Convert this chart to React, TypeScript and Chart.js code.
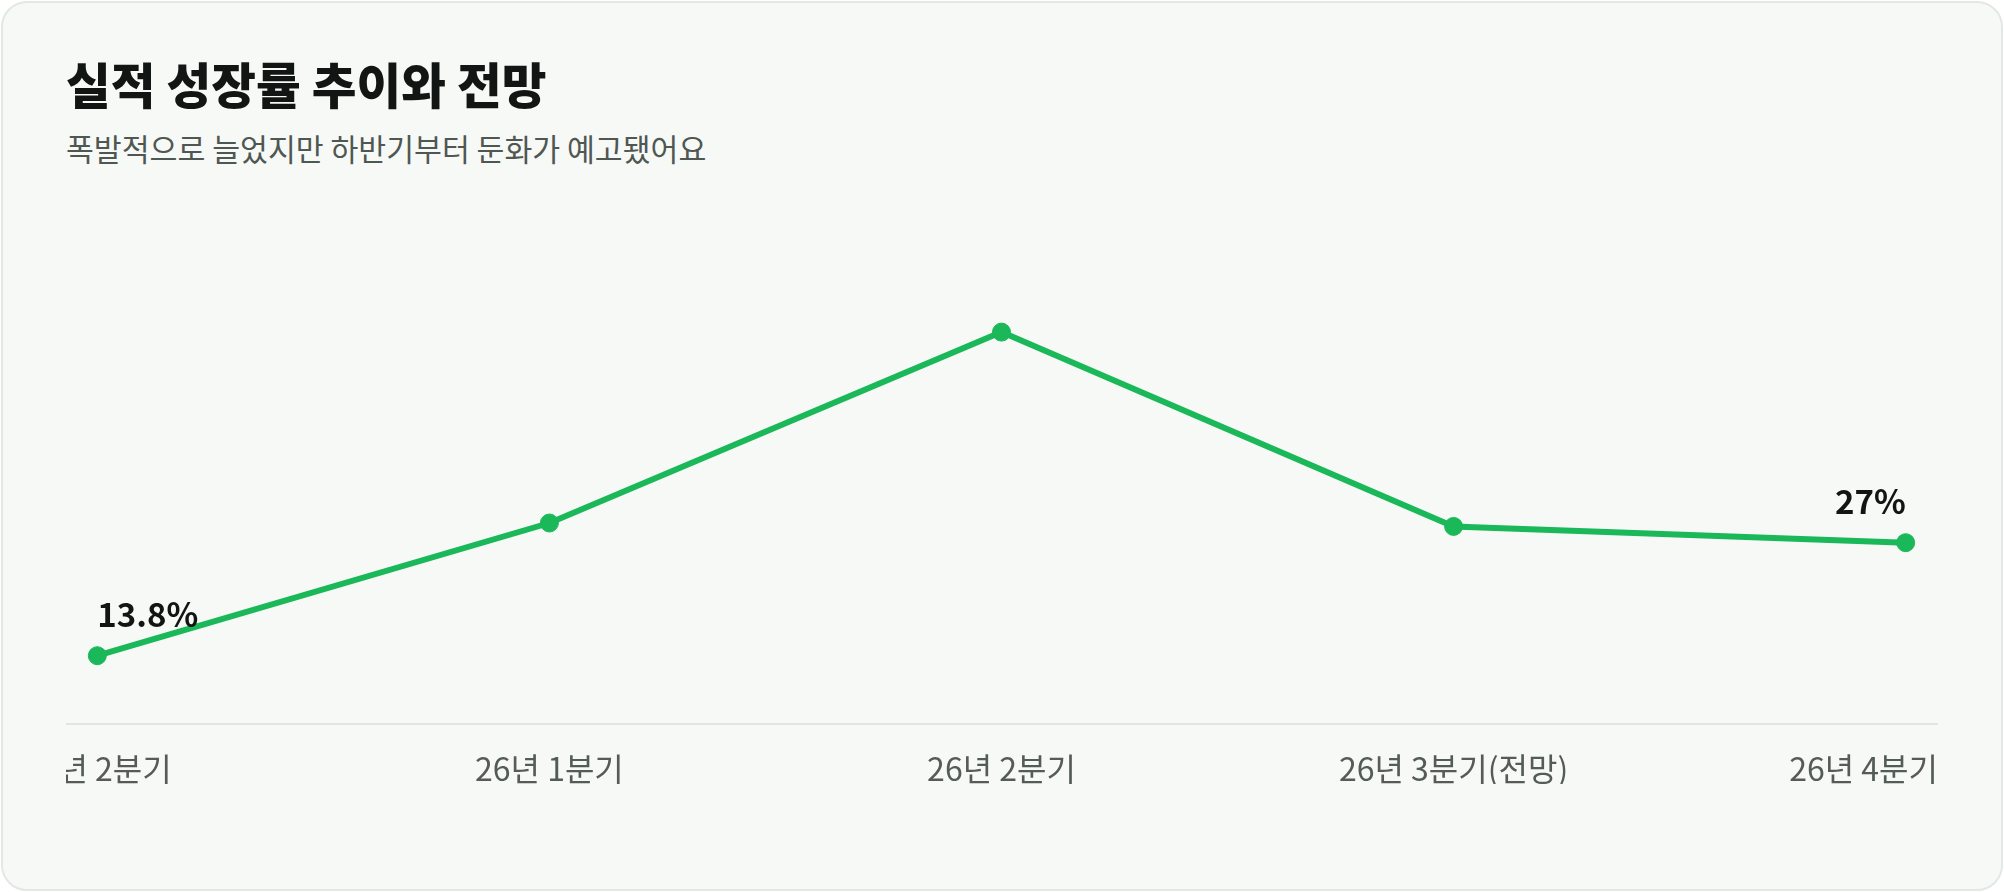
import React, { useEffect, useRef } from "react";
import { Chart, registerables } from "chart.js";

Chart.register(...registerables);

const categories: string[] = ["25년 2분기", "26년 1분기", "26년 2분기", "26년 3분기(전망)", "26년 4분기"];
const growthRates: number[] = [13.8, 29.3, 51.6, 28.9, 27];
const labeledIndices: number[] = [0, 4];
const valueLabels: string[] = ["13.8%", "", "", "", "27%"];

const FONT = "'Noto Sans CJK KR', 'Noto Sans', sans-serif";
const GREEN = "#1bb85a";

const CANVAS_LEFT = 66;
const CANVAS_TOP = 200;
const CANVAS_W = 1874;
const CANVAS_H = 620;

export default function App() {
  const ref = useRef<HTMLCanvasElement | null>(null);

  useEffect(() => {
    if (!ref.current) return;

    const valueLabelPlugin = {
      id: "valueLabels",
      afterDatasetsDraw(chart: any) {
        const meta = chart.getDatasetMeta(0);
        const ctx = chart.ctx;
        ctx.save();
        ctx.font = `700 33px ${FONT}`;
        ctx.fillStyle = "#111513";
        ctx.textBaseline = "alphabetic";
        labeledIndices.forEach((i) => {
          const el = meta.data[i];
          if (!el) return;
          const last = i === categories.length - 1;
          ctx.textAlign = last ? "right" : "left";
          ctx.fillText(valueLabels[i], el.x, el.y - 29);
        });
        ctx.restore();
      },
    };

    const lastLabelPlugin = {
      id: "lastLabelAlign",
      beforeDraw(chart: any) {
        const scale = chart.scales.x;
        const items = scale.getLabelItems(chart.chartArea);
        if (items && items.length) {
          const it = items[items.length - 1];
          it.options.textAlign = "right";
          it.options.translation = [chart.chartArea.right + 1, it.options.translation[1]];
        }
      },
    };

    const chart = new Chart(ref.current, {
      type: "line",
      data: {
        datasets: [
          {
            data: growthRates.map((v, i) => ({ x: i, y: v })),
            borderColor: GREEN,
            backgroundColor: GREEN,
            borderWidth: 6,
            tension: 0,
            pointRadius: 9,
            pointHoverRadius: 9,
            pointBorderWidth: 1,
            pointBackgroundColor: GREEN,
            pointBorderColor: GREEN,
            fill: false,
          },
        ],
      },
      options: {
        animation: false,
        responsive: false,
        maintainAspectRatio: false,
        layout: { autoPadding: false, padding: { left: 0, right: CANVAS_W - 1871, top: 40, bottom: 36 } },
        plugins: {
          legend: { display: false },
          tooltip: { enabled: false },
        },
        scales: {
          x: {
            type: "linear",
            min: -0.0693,
            max: 4.0693,
            grid: { display: false, drawTicks: false },
            border: { display: true, color: "#dfe6e2", width: 2 },
            afterBuildTicks: (axis: any) => {
              axis.ticks = categories.map((_, i) => ({ value: i }));
            },
            afterFit: (s: any) => {
              s.paddingLeft = 0;
              s.paddingRight = 0;
              s.height = 60;
            },
            ticks: {
              autoSkip: false,
              maxRotation: 0,
              minRotation: 0,
              padding: 26,
              color: "#545c57",
              font: { family: FONT, size: 32, weight: 400 },
              callback: (v: any) => categories[Math.round(Number(v))] ?? "",
            },
          },
          y: {
            display: false,
            min: 5.82,
            max: 62.36,
          },
        },
      },
      plugins: [valueLabelPlugin, lastLabelPlugin],
    } as any);

    return () => chart.destroy();
  }, []);

  return (
    <div
      style={{
        position: "fixed",
        left: 0,
        top: 0,
        width: 2004,
        height: 892,
        background: "#ffffff",
        overflow: "hidden",
        fontFamily: FONT,
      }}
    >
      <div
        style={{
          position: "absolute",
          left: 1,
          top: 1,
          width: 2002,
          height: 890,
          boxSizing: "border-box",
          border: "2px solid #e2e8e4",
          borderRadius: 26,
          background: "#f7f9f7",
        }}
      />
      <div
        style={{
          position: "absolute",
          left: 66,
          top: 59,
          fontSize: 48.6,
          lineHeight: "48px",
          fontWeight: 800,
          color: "#111513",
          whiteSpace: "nowrap",
        }}
      >
        실적 성장률 추이와 전망
      </div>
      <div
        style={{
          position: "absolute",
          left: 66,
          top: 133,
          fontSize: 30.3,
          lineHeight: "30px",
          fontWeight: 400,
          color: "#4f5752",
          whiteSpace: "nowrap",
        }}
      >
        폭발적으로 늘었지만 하반기부터 둔화가 예고됐어요
      </div>
      <canvas
        ref={ref}
        width={CANVAS_W}
        height={CANVAS_H}
        style={{
          position: "absolute",
          left: CANVAS_LEFT,
          top: CANVAS_TOP,
          width: CANVAS_W,
          height: CANVAS_H,
        }}
      />
    </div>
  );
}
